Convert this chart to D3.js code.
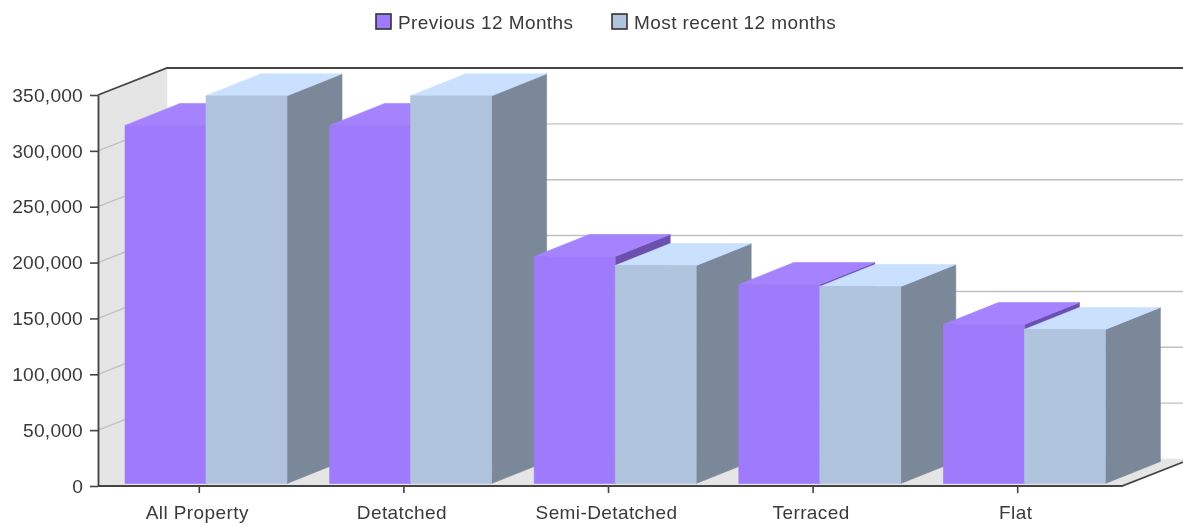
<!DOCTYPE html>
<html><head><meta charset="utf-8">
<script src="https://cdn.jsdelivr.net/npm/d3@7"></script>
<style>
html,body{margin:0;padding:0;background:#fff;overflow:hidden}
svg{display:block;filter:blur(0.35px)}
text{font-family:"Liberation Sans",Arial,sans-serif;fill:#3a3a3a}
</style></head><body>
<svg id="c" width="1183" height="525"></svg>
<script>
const categories=["All Property","Detatched","Semi-Detatched","Terraced","Flat"];
const previous12=[320500,320500,203200,178100,142300];
const recent12=[347000,347000,195100,176300,137900];
const seriesNames=["Previous 12 Months","Most recent 12 months"];
const yTicks=[0,50000,100000,150000,200000,250000,300000,350000];

const W=1183,H=525,L=98,R=1122,B=486,T=95;
const wallDX=69,wallDY=27,barDX=55,barDY=22,barLift=2.5,barInset=27,barW=81;
const fmt=d3.format(",");
const y=d3.scaleLinear().domain([0,350000]).range([B,T]);
const x=d3.scaleBand().domain(categories).range([L,R-1]);
const svg=d3.select("#c");
const poly=(g,pts,fill)=>g.append("polygon").attr("points",pts.map(p=>p.join(",")).join(" "))
  .attr("fill",fill).attr("stroke",fill).attr("stroke-width",0.6);

// walls and floor
const walls=svg.append("g");
poly(walls,[[L,T],[L+wallDX,T-wallDY],[L+wallDX,B-wallDY],[L,B]],"#e5e5e5");
poly(walls,[[L,B],[R,B],[R+wallDX,B-wallDY],[L+wallDX,B-wallDY]],"#e5e5e5");
const grid=svg.append("g").attr("stroke","#c0c0c0").attr("stroke-width",1.4).attr("fill","none");
yTicks.slice(1,-1).forEach(t=>{
  grid.append("polyline").attr("points",`${L},${y(t)} ${L+wallDX},${y(t)-wallDY} ${R+wallDX},${y(t)-wallDY}`);
});

// bars
const colors=[{front:"#9f7afa",top:"#a583ff",side:"#6c50ad"},{front:"#b0c4de",top:"#cae0ff",side:"#7b8899"}];
const bars=svg.append("g");
categories.forEach((c,i)=>{
  [previous12[i],recent12[i]].forEach((v,s)=>{
    const x0=x(c)+barInset+s*barW,x1=x0+barW,yt=y(v)-barLift,yb=B-barLift,col=colors[s];
    poly(bars,[[x1,yt],[x1+barDX,yt-barDY],[x1+barDX,yb-barDY],[x1,yb]],col.side);
    poly(bars,[[x0,yt],[x0+barDX,yt-barDY],[x1+barDX,yt-barDY],[x1,yt]],col.top);
    poly(bars,[[x0,yt],[x1,yt],[x1,yb],[x0,yb]],col.front);
  });
});

// frame lines
const frame=svg.append("g").attr("fill","none").attr("stroke","#444").attr("stroke-width",1.8);
frame.append("polyline").attr("points",`${L},${T} ${L+wallDX},${T-wallDY} ${W+2},${T-wallDY}`);
frame.append("polyline").attr("points",`${L},${B} ${R},${B} ${R+wallDX},${B-wallDY}`);

// axes
const ax=d3.axisLeft(y).tickValues(yTicks).tickFormat(fmt).tickSize(8).tickSizeOuter(0).tickPadding(7);
const gy=svg.append("g").attr("transform",`translate(${L},0)`).call(ax);
const bx=d3.axisBottom(x).tickSize(7).tickSizeOuter(0).tickPadding(13);
const gx=svg.append("g").attr("transform",`translate(-1,${B})`).call(bx);
gx.select(".domain").remove();
gy.select(".domain").attr("stroke","#444").attr("stroke-width",1.8);
svg.selectAll(".tick line").attr("stroke","#444").attr("stroke-width",1.6);
gy.selectAll("text").attr("font-size",19.2).attr("letter-spacing",0.2).attr("fill","#3a3a3a");
gx.selectAll("text").attr("font-size",19).attr("letter-spacing",0.4).attr("fill","#3a3a3a").attr("dx",-2);

// legend
const legendX=[376,612];
const lg=svg.append("g");
seriesNames.forEach((n,i)=>{
  lg.append("rect").attr("x",legendX[i]).attr("y",14).attr("width",15).attr("height",15)
    .attr("fill",colors[i].front).attr("stroke","#333").attr("stroke-width",1.6);
  lg.append("text").attr("x",legendX[i]+22).attr("y",29).attr("font-size",19).attr("letter-spacing",0.42).text(n);
});
</script></body></html>
